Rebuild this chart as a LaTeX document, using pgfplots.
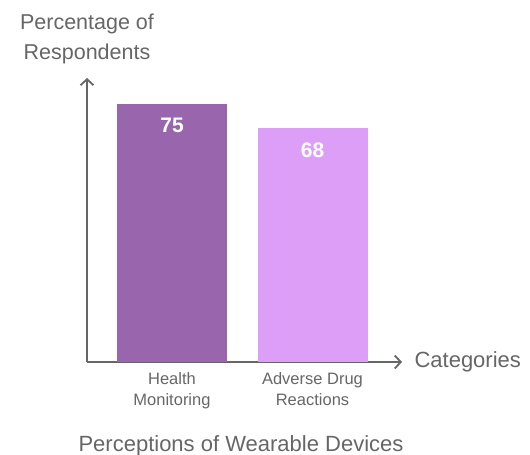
\documentclass[border=0pt]{standalone}
\usepackage{pgfplots}
\pgfplotsset{compat=1.18}
\usepackage{fontspec}
\setmainfont{Liberation Sans}
\usetikzlibrary{arrows.meta}
\definecolor{axgray}{HTML}{666666}
\definecolor{barA}{HTML}{9966AD}
\definecolor{barB}{HTML}{DD9EF8}
\begin{document}
\begin{tikzpicture}[x=1pt,y=1pt]
\path (0,0) rectangle (530,455);
\begin{axis}[
  at={(87pt,93pt)}, anchor=south west,
  scale only axis, width=315pt, height=284pt,
  xmin=-0.605, xmax=1.637, ymin=0, ymax=82.5,
  axis lines=left,
  /pgf/number format/assume math mode=true,
  axis line style={draw=axgray, line width=1.8pt, -{Straight Barb[length=6pt,width=13pt,line width=1.8pt]}},
  ytick=\empty,
  xtick={0,1}, xticklabels={Health\\Monitoring, Adverse Drug\\Reactions},
  xticklabel style={align=center, font=\fontsize{16.5}{21}\selectfont, text=axgray, yshift=-7pt},
  major tick length=0pt,
  clip=false,
  bar width=110pt,
  nodes near coords,
  every node near coord/.append style={anchor=north, yshift=-11pt, font=\fontsize{21}{24}\selectfont\bfseries, text=white},
]
\addplot[ybar, fill=barA, draw=none] coordinates {(0,75)};
\addplot[ybar, fill=barB, draw=none] coordinates {(1,68)};
\end{axis}
\node[align=center, text=axgray, font=\fontsize{21.5}{30}\selectfont] at (87,416) {Percentage of\\Respondents};
\node[anchor=west, text=axgray, font=\fontsize{22}{26}\selectfont] at (411,93) {Categories};
\node[overlay, text=axgray, font=\fontsize{22}{26}\selectfont] at (241,9) {Perceptions of Wearable Devices};
\end{tikzpicture}
\end{document}
